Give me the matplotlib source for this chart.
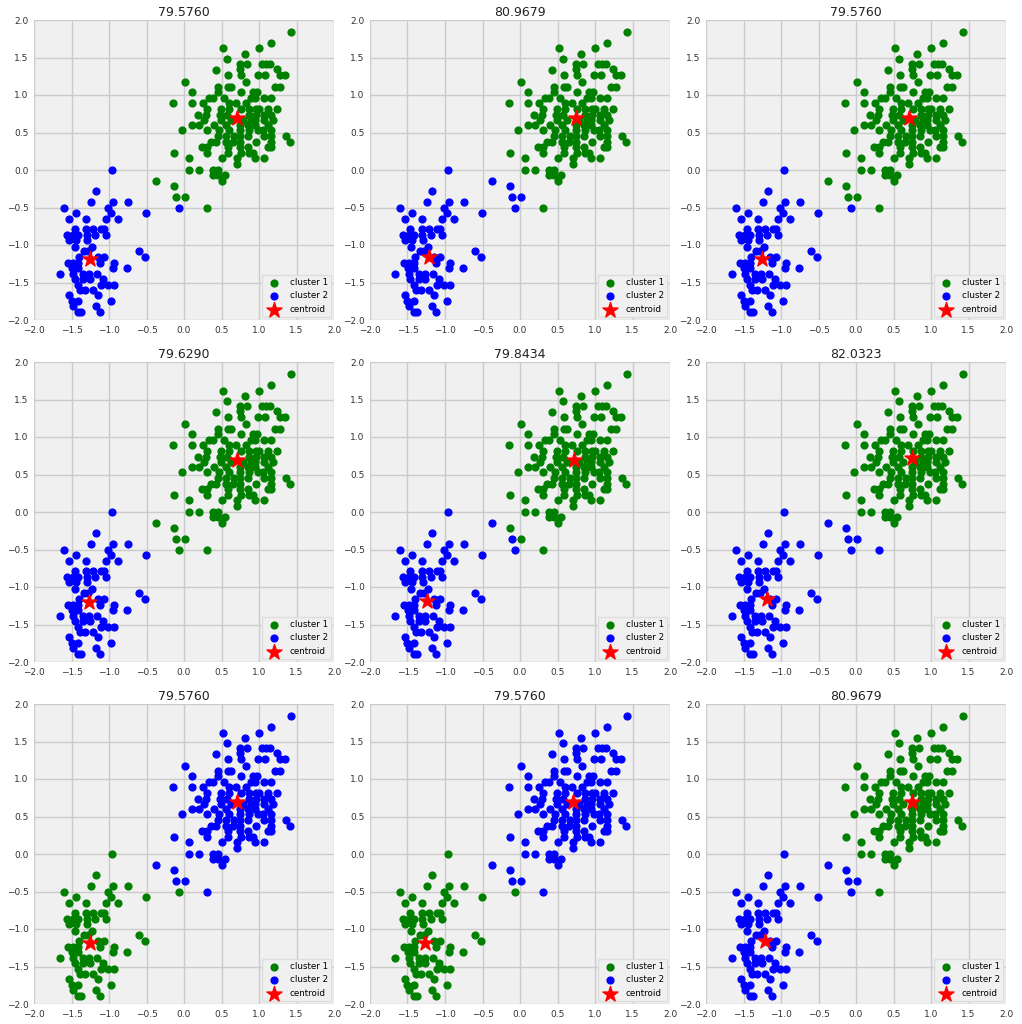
import numpy as np
import matplotlib
matplotlib.use('Agg')
import matplotlib.pyplot as plt

# upper cluster points
x_up = [1.42, 1.16, 0.52, 1.0, 0.81, 0.57,
        0.75, 0.84, 1.04, 1.09, 1.15,
        0.75, 1.24, 0.42,
        0.58, 0.76, 0.98, 1.08, 1.28, 1.35,
        0.01, 0.82,
        0.45, 0.58, 0.62, 1.21, 1.28,
        0.10, 0.45, 0.76, 0.92, 0.97,
        0.33, 0.38, 0.53, 0.89, 0.94, 1.07, 1.16,
        -0.15, 0.10, 0.25, 0.60, 0.69, 0.83,
        0.31, 0.49, 0.60, 0.76, 0.87, 0.96, 1.00, 1.12, 1.24,
        0.18, 0.29, 0.48, 0.57, 0.87, 0.96, 1.06, 1.16,
        0.27, 0.49, 0.62, 0.78, 0.89, 0.94, 1.07, 1.18,
        0.10, 0.20, 0.40, 0.56, 0.74, 0.85, 0.94, 1.12,
        -0.03, 0.31, 0.47, 0.60, 0.74, 0.87, 0.98, 1.05, 1.16,
        0.45, 0.56, 0.67, 0.74, 0.85, 1.07, 1.16, 1.36,
        0.36, 0.42, 0.56, 0.65, 0.74, 0.96, 1.16, 1.41,
        0.24, 0.31, 0.58, 0.74, 0.85, 1.12, 1.16,
        -0.14, 0.31, 0.59, 0.76, 0.87, 0.92,
        0.07, 0.51, 0.71, 0.94, 1.07,
        0.71,
        0.07, 0.20, 0.38, 0.45,
        0.38, 0.45, 0.54,
        0.51]
y_up = [1.84, 1.70, 1.62, 1.62, 1.55, 1.48,
        1.41, 1.41, 1.41, 1.41, 1.41,
        1.35, 1.35, 1.33,
        1.27, 1.27, 1.27, 1.27, 1.27, 1.27,
        1.18, 1.18,
        1.11, 1.11, 1.11, 1.11, 1.11,
        1.04, 1.04, 1.04, 1.04, 1.04,
        0.96, 0.96, 0.96, 0.96, 0.96, 0.96, 0.96,
        0.89, 0.89, 0.89, 0.89, 0.89, 0.89,
        0.81, 0.81, 0.81, 0.81, 0.81, 0.81, 0.81, 0.81, 0.81,
        0.74, 0.74, 0.74, 0.74, 0.74, 0.74, 0.74, 0.74,
        0.67, 0.67, 0.67, 0.67, 0.67, 0.67, 0.67, 0.67,
        0.60, 0.60, 0.60, 0.60, 0.60, 0.60, 0.60, 0.60,
        0.53, 0.53, 0.53, 0.53, 0.53, 0.53, 0.53, 0.53, 0.53,
        0.46, 0.46, 0.46, 0.46, 0.46, 0.46, 0.46, 0.46,
        0.37, 0.37, 0.37, 0.37, 0.37, 0.37, 0.37, 0.37,
        0.31, 0.31, 0.31, 0.31, 0.31, 0.31, 0.31,
        0.23, 0.23, 0.23, 0.23, 0.23, 0.23,
        0.16, 0.16, 0.16, 0.16, 0.16,
        0.08,
        0.0, 0.0, 0.0, 0.0,
        -0.07, -0.07, -0.07,
        -0.14]

# lower cluster points
x_low = [-0.96, -1.18,
         -1.24, -0.95, -0.75,
         -1.60, -1.01,
         -1.44, -0.97, -0.51,
         -1.53, -1.31, -1.04, -0.88,
         -1.46, -1.31, -1.21, -1.11, -1.07,
         -1.56, -1.48, -1.42, -1.30, -1.19, -1.04,
         -1.53, -1.44, -1.29,
         -1.45, -1.23,
         -1.33, -1.28, -0.60,
         -1.40, -1.15, -1.07, -0.52,
         -1.55, -1.48, -1.41, -1.12, -0.93,
         -1.49, -1.41, -0.95, -0.76,
         -1.66, -1.48, -1.35, -1.27, -1.16,
         -1.46, -1.35, -1.26, -1.08,
         -1.42, -1.11, -1.02, -0.93,
         -1.39, -1.32, -1.21,
         -1.53, -1.15,
         -1.50, -1.41, -0.97,
         -1.48, -1.17,
         -1.42, -1.37, -1.12]
y_low = [0.0, -0.28,
         -0.43, -0.43, -0.43,
         -0.50, -0.50,
         -0.57, -0.57, -0.57,
         -0.65, -0.65, -0.65, -0.65,
         -0.79, -0.79, -0.79, -0.79, -0.79,
         -0.87, -0.87, -0.87, -0.87, -0.87, -0.87,
         -0.93, -0.93, -0.93,
         -1.02, -1.02,
         -1.08, -1.08, -1.08,
         -1.16, -1.16, -1.16, -1.16,
         -1.24, -1.24, -1.24, -1.24, -1.24,
         -1.31, -1.31, -1.31, -1.31,
         -1.38, -1.38, -1.38, -1.38, -1.38,
         -1.45, -1.45, -1.45, -1.45,
         -1.53, -1.53, -1.53, -1.53,
         -1.60, -1.60, -1.60,
         -1.67, -1.67,
         -1.75, -1.75, -1.75,
         -1.81, -1.81,
         -1.89, -1.89, -1.89]

# points between the two groups, their cluster changes from run to run
x_mid = [-0.37, -0.14, -0.11, 0.01, -0.07, 0.30]
y_mid = [-0.14, -0.21, -0.36, -0.36, -0.51, -0.51]

titles = ['79.5760', '80.9679', '79.5760',
          '79.6290', '79.8434', '82.0323',
          '79.5760', '79.5760', '80.9679']
# 1 = point belongs to the upper group in that run
mid_upper = [[1, 1, 1, 1, 0, 1], [0, 0, 0, 0, 0, 1], [1, 1, 1, 1, 0, 1],
             [1, 1, 1, 1, 1, 1], [0, 1, 0, 1, 0, 1], [0, 0, 0, 0, 0, 0],
             [1, 1, 1, 1, 0, 1], [1, 1, 1, 1, 0, 1], [0, 0, 0, 0, 0, 1]]
# True when the upper group is labelled cluster 1
upper_is_c1 = [True, True, True, True, True, True, False, False, True]
cent_up = [(0.71, 0.70), (0.74, 0.70), (0.71, 0.70),
           (0.70, 0.69), (0.72, 0.70), (0.75, 0.72),
           (0.71, 0.70), (0.71, 0.70), (0.74, 0.70)]
cent_low = [(-1.26, -1.19), (-1.22, -1.16), (-1.26, -1.19),
            (-1.27, -1.20), (-1.24, -1.18), (-1.19, -1.16),
            (-1.26, -1.19), (-1.26, -1.19), (-1.22, -1.16)]

fig, axes = plt.subplots(3, 3, figsize=(10.22, 10.24), dpi=100)
fig.subplots_adjust(left=34/1022, right=1006/1022, bottom=20/1024, top=1-20/1024,
                    wspace=0.12, hspace=0.14)

for i, ax in enumerate(axes.flat):
    up_x = list(x_up) + [x_mid[k] for k in range(6) if mid_upper[i][k]]
    up_y = list(y_up) + [y_mid[k] for k in range(6) if mid_upper[i][k]]
    lo_x = list(x_low) + [x_mid[k] for k in range(6) if not mid_upper[i][k]]
    lo_y = list(y_low) + [y_mid[k] for k in range(6) if not mid_upper[i][k]]
    if upper_is_c1[i]:
        c1 = (up_x, up_y)
        c2 = (lo_x, lo_y)
    else:
        c1 = (lo_x, lo_y)
        c2 = (up_x, up_y)
    ax.set_facecolor('#f0f0f0')
    ax.scatter(c1[0], c1[1], c='green', s=24, label='cluster 1', zorder=3)
    ax.scatter(c2[0], c2[1], c='blue', s=24, label='cluster 2', zorder=3)
    cx = [cent_up[i][0], cent_low[i][0]]
    cy = [cent_up[i][1], cent_low[i][1]]
    ax.scatter(cx, cy, marker='*', c='red', s=130, label='centroid', zorder=4)
    ax.set_xlim(-2, 2)
    ax.set_ylim(-2, 2)
    ax.set_xticks(np.arange(-2, 2.01, 0.5))
    ax.set_yticks(np.arange(-2, 2.01, 0.5))
    ax.tick_params(labelsize=6.5, length=0, colors='#333333', pad=4)
    ax.grid(True, color='#cbcbcb', linewidth=1)
    ax.set_axisbelow(True)
    for s in ax.spines.values():
        s.set_visible(False)
    ax.set_title(titles[i], fontsize=9, pad=3, color='#222222')
    ax.legend(loc='lower right', fontsize=6.3, scatterpoints=1, borderaxespad=0.3,
              facecolor='#f0f0f0', edgecolor='#dddddd', framealpha=1)

fig.savefig('out.png', facecolor='white')
